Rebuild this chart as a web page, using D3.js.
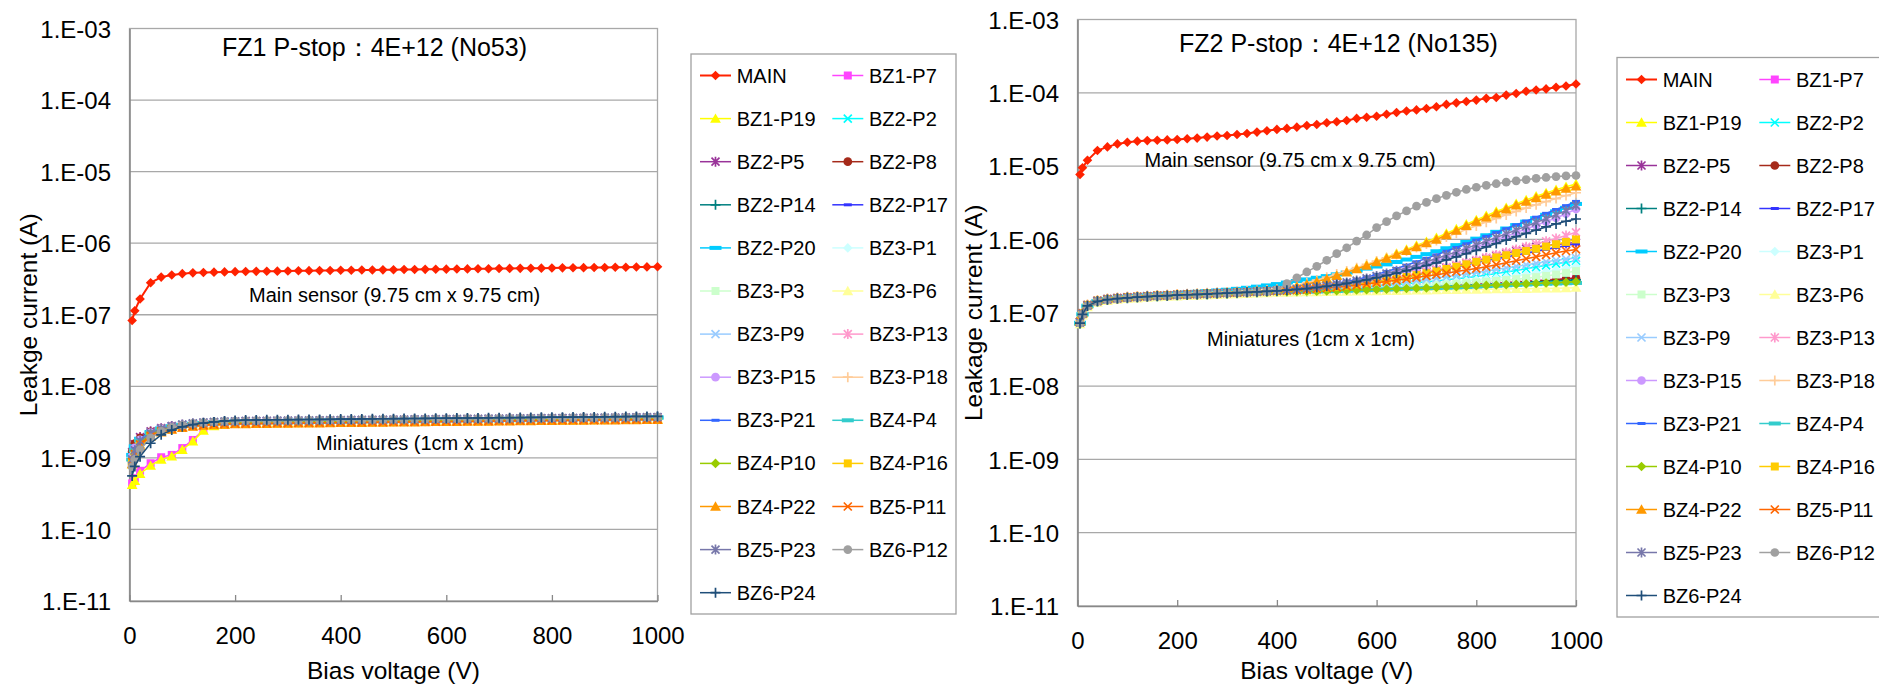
<!DOCTYPE html>
<html>
<head>
<meta charset="utf-8">
<script src="https://cdn.jsdelivr.net/npm/d3@7"></script>
<style>
  body { margin: 0; background: #fff; }
  svg { display: block; }
</style>
</head>
<body>
<svg id="chart" width="1879" height="684"></svg>
<script>
// Bias voltages (V), shared by every series
const voltages = [5, 10, 20, 40, 60, 80, 100, 120, 140, 160, 180, 200, 220, 240, 260, 280, 300, 320, 340, 360, 380, 400, 420, 440, 460, 480, 500, 520, 540, 560, 580, 600, 620, 640, 660, 680, 700, 720, 740, 760, 780, 800, 820, 840, 860, 880, 900, 920, 940, 960, 980, 1000]

// Series names, in legend order
const seriesNames = ["MAIN", "BZ1-P7", "BZ1-P19", "BZ2-P2", "BZ2-P5", "BZ2-P8", "BZ2-P14", "BZ2-P17", "BZ2-P20", "BZ3-P1", "BZ3-P3", "BZ3-P6", "BZ3-P9", "BZ3-P13", "BZ3-P15", "BZ3-P18", "BZ3-P21", "BZ4-P4", "BZ4-P10", "BZ4-P16", "BZ4-P22", "BZ5-P11", "BZ5-P23", "BZ6-P12", "BZ6-P24"]

// Axis ticks
const yTickValues = [1e-11, 1e-10, 1e-9, 1e-8, 1e-7, 1e-6, 1e-5, 1e-4, 1e-3]
const yTickLabels = ["1.E-11", "1.E-10", "1.E-09", "1.E-08", "1.E-07", "1.E-06", "1.E-05", "1.E-04", "1.E-03"]
const xTickValues = [0, 200, 400, 600, 800, 1000]

// FZ1 leakage currents (nA)
const fz1Main = [83, 114, 166, 280, 336, 360, 375, 385, 390, 394, 397, 400, 402, 404, 405, 407, 409, 411, 413, 414, 416, 418, 419, 421, 423, 424, 426, 428, 429, 431, 432, 434, 436, 437, 439, 440, 442, 444, 445, 447, 448, 450, 452, 453, 455, 457, 458, 460, 462, 464, 466, 468]
const fz1BZ1P7 = [0.44, 0.52, 0.66, 0.84, 1.02, 1.1, 1.37, 1.78, 2.46, 2.8, 2.95, 3.02, 3.05, 3.07, 3.09, 3.1, 3.12, 3.13, 3.14, 3.15, 3.17, 3.18, 3.19, 3.2, 3.21, 3.22, 3.23, 3.24, 3.25, 3.26, 3.27, 3.28, 3.29, 3.3, 3.31, 3.32, 3.33, 3.34, 3.35, 3.36, 3.37, 3.38, 3.39, 3.4, 3.41, 3.42, 3.43, 3.44, 3.45, 3.46, 3.47, 3.48]
const fz1BZ1P19 = [0.42, 0.48, 0.6, 0.78, 0.95, 1.05, 1.3, 1.7, 2.4, 2.78, 2.93, 3.0, 3.03, 3.05, 3.07, 3.09, 3.1, 3.12, 3.13, 3.14, 3.16, 3.17, 3.18, 3.19, 3.2, 3.21, 3.22, 3.23, 3.24, 3.25, 3.26, 3.27, 3.28, 3.29, 3.3, 3.31, 3.32, 3.33, 3.34, 3.35, 3.36, 3.37, 3.38, 3.39, 3.4, 3.41, 3.42, 3.43, 3.44, 3.45, 3.46, 3.47]
const fz1BZ2P2 = [1.0, 1.35, 1.75, 2.25, 2.55, 2.75, 2.9, 3.0, 3.07, 3.12, 3.15, 3.17, 3.19, 3.2, 3.21, 3.22, 3.23, 3.24, 3.25, 3.26, 3.27, 3.29, 3.3, 3.31, 3.32, 3.33, 3.34, 3.35, 3.36, 3.37, 3.39, 3.4, 3.41, 3.42, 3.43, 3.44, 3.45, 3.46, 3.47, 3.49, 3.5, 3.51, 3.52, 3.53, 3.54, 3.55, 3.56, 3.57, 3.59, 3.6, 3.61, 3.62]
const fz1BZ2P5 = [1.2, 1.55, 1.95, 2.35, 2.6, 2.78, 2.9, 3.0, 3.08, 3.14, 3.18, 3.21, 3.24, 3.25, 3.26, 3.27, 3.28, 3.29, 3.3, 3.31, 3.32, 3.34, 3.35, 3.36, 3.37, 3.38, 3.39, 3.4, 3.41, 3.42, 3.44, 3.45, 3.46, 3.47, 3.48, 3.49, 3.5, 3.51, 3.52, 3.54, 3.55, 3.56, 3.57, 3.58, 3.59, 3.6, 3.61, 3.62, 3.64, 3.65, 3.66, 3.67]
const fz1BZ2P8 = [1.22, 1.58, 1.9, 2.3, 2.57, 2.75, 2.88, 2.98, 3.06, 3.12, 3.17, 3.2, 3.23, 3.24, 3.25, 3.26, 3.27, 3.28, 3.29, 3.3, 3.31, 3.33, 3.34, 3.35, 3.36, 3.37, 3.38, 3.39, 3.4, 3.41, 3.43, 3.44, 3.45, 3.46, 3.47, 3.48, 3.49, 3.5, 3.51, 3.53, 3.54, 3.55, 3.56, 3.57, 3.58, 3.59, 3.6, 3.61, 3.63, 3.64, 3.65, 3.66]
const fz1BZ2P14 = [0.9, 1.2, 1.65, 2.2, 2.5, 2.7, 2.85, 2.96, 3.04, 3.1, 3.14, 3.16, 3.18, 3.19, 3.2, 3.21, 3.22, 3.23, 3.24, 3.25, 3.26, 3.28, 3.29, 3.3, 3.31, 3.32, 3.33, 3.34, 3.35, 3.36, 3.38, 3.39, 3.4, 3.41, 3.42, 3.43, 3.44, 3.45, 3.46, 3.48, 3.49, 3.5, 3.51, 3.52, 3.53, 3.54, 3.55, 3.56, 3.58, 3.59, 3.6, 3.61]
const fz1BZ2P17 = [1.05, 1.4, 1.8, 2.28, 2.56, 2.74, 2.88, 2.98, 3.06, 3.12, 3.16, 3.19, 3.21, 3.22, 3.23, 3.24, 3.25, 3.26, 3.27, 3.28, 3.29, 3.31, 3.32, 3.33, 3.34, 3.35, 3.36, 3.37, 3.38, 3.39, 3.41, 3.42, 3.43, 3.44, 3.45, 3.46, 3.47, 3.48, 3.49, 3.51, 3.52, 3.53, 3.54, 3.55, 3.56, 3.57, 3.58, 3.59, 3.61, 3.62, 3.63, 3.64]
const fz1BZ2P20 = [1.1, 1.45, 1.85, 2.3, 2.58, 2.76, 2.9, 3.0, 3.08, 3.14, 3.19, 3.22, 3.25, 3.26, 3.27, 3.28, 3.29, 3.3, 3.31, 3.32, 3.33, 3.35, 3.36, 3.37, 3.38, 3.39, 3.4, 3.41, 3.42, 3.43, 3.45, 3.46, 3.47, 3.48, 3.49, 3.5, 3.51, 3.52, 3.53, 3.55, 3.56, 3.57, 3.58, 3.59, 3.6, 3.61, 3.62, 3.63, 3.65, 3.66, 3.67, 3.68]
const fz1BZ3P1 = [0.95, 1.25, 1.7, 2.2, 2.5, 2.7, 2.84, 2.95, 3.03, 3.09, 3.13, 3.15, 3.17, 3.18, 3.19, 3.2, 3.21, 3.22, 3.23, 3.24, 3.25, 3.27, 3.28, 3.29, 3.3, 3.31, 3.32, 3.33, 3.34, 3.35, 3.37, 3.38, 3.39, 3.4, 3.41, 3.42, 3.43, 3.44, 3.45, 3.47, 3.48, 3.49, 3.5, 3.51, 3.52, 3.53, 3.54, 3.55, 3.57, 3.58, 3.59, 3.6]
const fz1BZ3P3 = [0.85, 1.15, 1.6, 2.15, 2.45, 2.66, 2.8, 2.92, 3.0, 3.06, 3.1, 3.12, 3.14, 3.15, 3.16, 3.17, 3.18, 3.19, 3.2, 3.21, 3.22, 3.24, 3.25, 3.26, 3.27, 3.28, 3.29, 3.3, 3.31, 3.32, 3.34, 3.35, 3.36, 3.37, 3.38, 3.39, 3.4, 3.41, 3.42, 3.44, 3.45, 3.46, 3.47, 3.48, 3.49, 3.5, 3.51, 3.52, 3.54, 3.55, 3.56, 3.57]
const fz1BZ3P6 = [0.8, 1.1, 1.55, 2.1, 2.4, 2.62, 2.76, 2.88, 2.96, 3.02, 3.06, 3.08, 3.1, 3.11, 3.12, 3.13, 3.14, 3.15, 3.16, 3.17, 3.18, 3.2, 3.21, 3.22, 3.23, 3.24, 3.25, 3.26, 3.27, 3.28, 3.3, 3.31, 3.32, 3.33, 3.34, 3.35, 3.36, 3.37, 3.38, 3.4, 3.41, 3.42, 3.43, 3.44, 3.45, 3.46, 3.47, 3.48, 3.5, 3.51, 3.52, 3.53]
const fz1BZ3P9 = [0.92, 1.22, 1.68, 2.22, 2.52, 2.72, 2.86, 2.96, 3.04, 3.1, 3.14, 3.17, 3.2, 3.21, 3.22, 3.23, 3.24, 3.25, 3.26, 3.27, 3.28, 3.3, 3.31, 3.32, 3.33, 3.34, 3.35, 3.36, 3.37, 3.38, 3.4, 3.41, 3.42, 3.43, 3.44, 3.45, 3.46, 3.47, 3.48, 3.5, 3.51, 3.52, 3.53, 3.54, 3.55, 3.56, 3.57, 3.58, 3.6, 3.61, 3.62, 3.63]
const fz1BZ3P13 = [0.98, 1.3, 1.72, 2.2, 2.5, 2.7, 2.84, 2.95, 3.03, 3.09, 3.12, 3.14, 3.16, 3.17, 3.18, 3.19, 3.2, 3.21, 3.22, 3.23, 3.24, 3.26, 3.27, 3.28, 3.29, 3.3, 3.31, 3.32, 3.33, 3.34, 3.36, 3.37, 3.38, 3.39, 3.4, 3.41, 3.42, 3.43, 3.44, 3.46, 3.47, 3.48, 3.49, 3.5, 3.51, 3.52, 3.53, 3.54, 3.56, 3.57, 3.58, 3.59]
const fz1BZ3P15 = [1.05, 1.38, 1.78, 2.26, 2.55, 2.74, 2.88, 2.98, 3.06, 3.12, 3.16, 3.19, 3.22, 3.23, 3.24, 3.25, 3.26, 3.27, 3.28, 3.29, 3.3, 3.32, 3.33, 3.34, 3.35, 3.36, 3.37, 3.38, 3.39, 3.4, 3.42, 3.43, 3.44, 3.45, 3.46, 3.47, 3.48, 3.49, 3.5, 3.52, 3.53, 3.54, 3.55, 3.56, 3.57, 3.58, 3.59, 3.6, 3.62, 3.63, 3.64, 3.65]
const fz1BZ3P18 = [0.88, 1.18, 1.62, 2.12, 2.42, 2.62, 2.76, 2.87, 2.95, 3.0, 3.04, 3.06, 3.08, 3.09, 3.1, 3.11, 3.12, 3.13, 3.14, 3.15, 3.16, 3.18, 3.19, 3.2, 3.21, 3.22, 3.23, 3.24, 3.25, 3.26, 3.28, 3.29, 3.3, 3.31, 3.32, 3.33, 3.34, 3.35, 3.36, 3.38, 3.39, 3.4, 3.41, 3.42, 3.43, 3.44, 3.45, 3.46, 3.48, 3.49, 3.5, 3.51]
const fz1BZ3P21 = [1.0, 1.35, 1.8, 2.3, 2.6, 2.78, 2.92, 3.02, 3.1, 3.16, 3.2, 3.23, 3.26, 3.27, 3.28, 3.29, 3.3, 3.31, 3.32, 3.33, 3.34, 3.36, 3.37, 3.38, 3.39, 3.4, 3.41, 3.42, 3.43, 3.44, 3.46, 3.47, 3.48, 3.49, 3.5, 3.51, 3.52, 3.53, 3.54, 3.56, 3.57, 3.58, 3.59, 3.6, 3.61, 3.62, 3.63, 3.64, 3.66, 3.67, 3.68, 3.69]
const fz1BZ4P4 = [0.95, 1.28, 1.75, 2.25, 2.55, 2.74, 2.88, 2.98, 3.06, 3.12, 3.16, 3.19, 3.21, 3.22, 3.23, 3.24, 3.25, 3.26, 3.27, 3.28, 3.29, 3.31, 3.32, 3.33, 3.34, 3.35, 3.36, 3.37, 3.38, 3.39, 3.41, 3.42, 3.43, 3.44, 3.45, 3.46, 3.47, 3.48, 3.49, 3.51, 3.52, 3.53, 3.54, 3.55, 3.56, 3.57, 3.58, 3.59, 3.61, 3.62, 3.63, 3.64]
const fz1BZ4P10 = [0.82, 1.12, 1.6, 2.15, 2.46, 2.66, 2.8, 2.92, 3.0, 3.06, 3.1, 3.13, 3.15, 3.16, 3.17, 3.18, 3.19, 3.2, 3.21, 3.22, 3.23, 3.25, 3.26, 3.27, 3.28, 3.29, 3.3, 3.31, 3.32, 3.33, 3.35, 3.36, 3.37, 3.38, 3.39, 3.4, 3.41, 3.42, 3.43, 3.45, 3.46, 3.47, 3.48, 3.49, 3.5, 3.51, 3.52, 3.53, 3.55, 3.56, 3.57, 3.58]
const fz1BZ4P16 = [0.85, 1.1, 1.5, 2.0, 2.3, 2.5, 2.65, 2.76, 2.84, 2.9, 2.95, 2.98, 3.0, 3.01, 3.02, 3.03, 3.04, 3.05, 3.06, 3.07, 3.08, 3.1, 3.11, 3.12, 3.13, 3.14, 3.15, 3.16, 3.17, 3.18, 3.2, 3.21, 3.22, 3.23, 3.24, 3.25, 3.26, 3.27, 3.28, 3.3, 3.31, 3.32, 3.33, 3.34, 3.35, 3.36, 3.37, 3.38, 3.4, 3.41, 3.42, 3.43]
const fz1BZ4P22 = [0.82, 1.08, 1.48, 1.98, 2.28, 2.48, 2.63, 2.74, 2.82, 2.88, 2.93, 2.96, 2.98, 2.99, 3.0, 3.01, 3.02, 3.03, 3.04, 3.05, 3.06, 3.08, 3.09, 3.1, 3.11, 3.12, 3.13, 3.14, 3.15, 3.16, 3.18, 3.19, 3.2, 3.21, 3.22, 3.23, 3.24, 3.25, 3.26, 3.28, 3.29, 3.3, 3.31, 3.32, 3.33, 3.34, 3.35, 3.36, 3.38, 3.39, 3.4, 3.41]
const fz1BZ5P11 = [0.88, 1.14, 1.54, 2.04, 2.34, 2.54, 2.68, 2.79, 2.87, 2.93, 2.97, 3.0, 3.02, 3.03, 3.04, 3.05, 3.06, 3.07, 3.08, 3.09, 3.1, 3.12, 3.13, 3.14, 3.15, 3.16, 3.17, 3.18, 3.19, 3.2, 3.22, 3.23, 3.24, 3.25, 3.26, 3.27, 3.28, 3.29, 3.3, 3.32, 3.33, 3.34, 3.35, 3.36, 3.37, 3.38, 3.39, 3.4, 3.42, 3.43, 3.44, 3.45]
const fz1BZ5P23 = [0.95, 1.28, 1.72, 2.22, 2.55, 2.76, 2.92, 3.04, 3.12, 3.18, 3.22, 3.25, 3.28, 3.29, 3.3, 3.31, 3.32, 3.33, 3.34, 3.35, 3.36, 3.38, 3.39, 3.4, 3.41, 3.42, 3.43, 3.44, 3.45, 3.46, 3.48, 3.49, 3.5, 3.51, 3.52, 3.53, 3.54, 3.55, 3.56, 3.58, 3.59, 3.6, 3.61, 3.62, 3.63, 3.64, 3.65, 3.66, 3.68, 3.69, 3.7, 3.71]
const fz1BZ6P12 = [0.75, 0.95, 1.3, 1.9, 2.35, 2.65, 2.85, 3.0, 3.1, 3.18, 3.24, 3.27, 3.3, 3.31, 3.32, 3.33, 3.34, 3.35, 3.36, 3.37, 3.38, 3.4, 3.41, 3.42, 3.43, 3.44, 3.45, 3.46, 3.47, 3.48, 3.5, 3.51, 3.52, 3.53, 3.54, 3.55, 3.56, 3.57, 3.58, 3.6, 3.61, 3.62, 3.63, 3.64, 3.65, 3.66, 3.67, 3.68, 3.7, 3.71, 3.72, 3.73]
const fz1BZ6P24 = [0.56, 0.76, 1.04, 1.6, 2.1, 2.45, 2.72, 2.92, 3.06, 3.18, 3.28, 3.34, 3.38, 3.39, 3.4, 3.41, 3.42, 3.43, 3.44, 3.45, 3.46, 3.48, 3.49, 3.5, 3.51, 3.52, 3.53, 3.54, 3.55, 3.56, 3.58, 3.59, 3.6, 3.61, 3.62, 3.63, 3.64, 3.65, 3.66, 3.68, 3.69, 3.7, 3.71, 3.72, 3.73, 3.74, 3.75, 3.76, 3.78, 3.79, 3.8, 3.81]

// FZ2 leakage currents (nA)
const fz2Main = [7700, 9500, 12000, 16300, 18300, 20100, 21200, 21900, 22300, 22500, 22800, 23100, 23600, 24100, 24900, 25700, 26200, 27000, 27900, 29100, 30400, 31700, 32700, 34000, 35900, 37000, 39000, 40300, 42000, 44800, 46500, 48000, 51000, 54000, 56500, 58500, 61000, 64500, 69500, 73000, 76000, 79500, 84000, 86500, 93000, 98000, 105000, 109000, 113000, 119000, 124000, 132000]
const fz2BZ1P7 = [73, 96, 125, 143, 151, 156, 160, 163, 166, 169, 171, 174, 176, 178, 180, 182, 184, 187, 189, 191, 194, 196, 197, 198, 199, 200, 202, 204, 206, 208, 210, 212, 214, 217, 220, 223, 226, 229, 232, 236, 240, 244, 248, 253, 258, 263, 268, 274, 280, 286, 293, 300]
const fz2BZ1P19 = [75, 98, 127, 146, 154, 159, 163, 166, 169, 172, 174, 177, 179, 181, 183, 186, 188, 191, 193, 196, 199, 203, 214, 228, 246, 268, 295, 326, 362, 404, 452, 505, 570, 645, 730, 825, 935, 1060, 1210, 1390, 1610, 1850, 2110, 2400, 2720, 3080, 3460, 3880, 4320, 4780, 5230, 5700]
const fz2BZ2P2 = [74, 97, 126, 144, 152, 157, 161, 164, 167, 170, 172, 175, 177, 179, 181, 183, 185, 188, 190, 193, 195, 197, 199, 201, 203, 206, 209, 212, 216, 220, 225, 230, 236, 242, 249, 256, 264, 272, 281, 291, 301, 312, 326, 342, 359, 378, 398, 420, 443, 467, 490, 510]
const fz2BZ2P5 = [75, 98, 127, 145, 153, 158, 162, 165, 168, 171, 173, 176, 178, 180, 182, 185, 187, 190, 192, 195, 198, 200, 202, 206, 211, 217, 224, 232, 241, 251, 262, 274, 288, 303, 320, 339, 360, 384, 411, 441, 474, 511, 552, 597, 646, 700, 750, 790, 825, 855, 880, 905]
const fz2BZ2P8 = [72, 95, 124, 142, 150, 155, 159, 162, 165, 168, 170, 173, 175, 177, 179, 181, 183, 186, 188, 190, 193, 195, 196, 197, 198, 199, 201, 203, 205, 207, 209, 211, 213, 216, 219, 222, 225, 228, 231, 235, 239, 243, 247, 251, 256, 261, 266, 271, 277, 283, 289, 295]
const fz2BZ2P14 = [71, 94, 123, 141, 149, 154, 158, 161, 164, 167, 169, 172, 174, 176, 178, 180, 182, 185, 187, 189, 192, 194, 195, 196, 197, 198, 200, 202, 204, 206, 208, 210, 212, 214, 216, 219, 222, 225, 228, 231, 234, 238, 242, 246, 250, 254, 258, 262, 266, 270, 275, 280]
const fz2BZ2P17 = [74, 97, 126, 144, 152, 157, 161, 164, 167, 170, 172, 175, 177, 179, 181, 184, 186, 188, 191, 193, 196, 199, 201, 204, 208, 213, 219, 226, 234, 243, 253, 264, 277, 291, 307, 325, 345, 367, 392, 420, 451, 485, 515, 545, 578, 613, 650, 690, 733, 778, 824, 870]
const fz2BZ2P20 = [73, 96, 125, 145, 154, 160, 165, 169, 173, 177, 181, 185, 189, 193, 197, 201, 206, 212, 219, 227, 236, 246, 258, 271, 285, 300, 316, 334, 354, 376, 400, 427, 457, 492, 532, 578, 630, 690, 758, 836, 925, 1025, 1140, 1270, 1410, 1570, 1750, 1950, 2170, 2420, 2700, 3050]
const fz2BZ3P1 = [72, 95, 124, 143, 151, 156, 160, 163, 166, 169, 171, 174, 176, 178, 180, 182, 184, 187, 189, 192, 194, 197, 199, 200, 202, 204, 206, 208, 211, 214, 217, 221, 225, 229, 234, 239, 245, 251, 257, 264, 271, 279, 287, 297, 308, 320, 333, 347, 362, 379, 402, 430]
const fz2BZ3P3 = [70, 93, 122, 141, 149, 154, 158, 161, 164, 167, 169, 172, 174, 176, 178, 180, 182, 185, 187, 190, 193, 196, 198, 199, 200, 202, 204, 206, 208, 210, 213, 216, 219, 222, 226, 230, 234, 238, 243, 248, 253, 259, 265, 272, 279, 287, 296, 306, 318, 332, 350, 370]
const fz2BZ3P6 = [70, 92, 120, 138, 146, 151, 155, 158, 161, 164, 166, 168, 170, 172, 174, 176, 178, 180, 182, 184, 186, 188, 189, 190, 191, 192, 193, 194, 195, 196, 197, 198, 199, 200, 201, 202, 203, 204, 205, 206, 207, 208, 209, 210, 211, 212, 213, 214, 215, 216, 218, 220]
const fz2BZ3P9 = [74, 97, 126, 144, 152, 157, 161, 164, 167, 170, 172, 175, 177, 179, 181, 184, 186, 188, 191, 193, 196, 198, 200, 203, 206, 209, 213, 217, 222, 227, 233, 240, 247, 255, 264, 274, 285, 297, 310, 324, 339, 355, 372, 390, 409, 429, 450, 472, 495, 518, 540, 560]
const fz2BZ3P13 = [75, 98, 127, 145, 153, 158, 162, 165, 168, 171, 173, 176, 178, 180, 182, 185, 187, 190, 192, 195, 198, 201, 203, 207, 212, 218, 225, 233, 242, 252, 263, 276, 290, 306, 324, 344, 366, 391, 419, 450, 485, 524, 567, 615, 668, 727, 792, 864, 943, 1030, 1130, 1250]
const fz2BZ3P15 = [73, 96, 125, 143, 151, 156, 160, 163, 166, 169, 171, 174, 176, 178, 180, 183, 185, 188, 190, 193, 196, 199, 204, 209, 215, 222, 230, 240, 252, 266, 283, 303, 327, 355, 387, 424, 467, 516, 572, 636, 709, 792, 885, 990, 1108, 1240, 1390, 1560, 1750, 1960, 2240, 2600]
const fz2BZ3P18 = [77, 100, 130, 149, 157, 162, 166, 169, 172, 175, 177, 180, 182, 184, 187, 190, 192, 195, 198, 201, 205, 210, 222, 237, 256, 279, 306, 337, 372, 412, 457, 507, 562, 625, 695, 775, 865, 965, 1080, 1210, 1360, 1530, 1720, 1930, 2160, 2410, 2680, 2970, 3280, 3610, 3960, 4330]
const fz2BZ3P21 = [74, 97, 126, 144, 152, 157, 161, 164, 167, 170, 172, 175, 177, 180, 182, 185, 188, 191, 194, 197, 201, 205, 210, 216, 223, 231, 240, 252, 266, 284, 306, 334, 366, 402, 445, 495, 552, 616, 690, 775, 872, 980, 1100, 1240, 1400, 1580, 1780, 2010, 2270, 2560, 2890, 3300]
const fz2BZ4P4 = [71, 94, 122, 140, 148, 153, 157, 160, 163, 166, 168, 171, 173, 175, 177, 179, 181, 184, 186, 188, 191, 192, 193, 194, 195, 196, 197, 198, 200, 202, 204, 206, 208, 210, 212, 214, 216, 218, 220, 222, 225, 228, 231, 234, 237, 240, 243, 246, 249, 251, 253, 255]
const fz2BZ4P10 = [71, 94, 123, 141, 149, 154, 158, 161, 164, 167, 169, 172, 174, 176, 178, 180, 182, 185, 187, 189, 191, 193, 194, 195, 196, 197, 198, 200, 202, 204, 206, 208, 210, 212, 214, 216, 218, 221, 224, 227, 230, 233, 236, 239, 242, 245, 248, 251, 254, 257, 261, 265]
const fz2BZ4P16 = [76, 99, 128, 146, 154, 159, 163, 166, 169, 172, 174, 177, 179, 181, 183, 185, 187, 190, 192, 195, 198, 200, 202, 205, 209, 214, 220, 227, 235, 244, 254, 265, 278, 292, 308, 326, 346, 369, 395, 424, 457, 494, 530, 568, 608, 651, 697, 746, 800, 860, 925, 1000]
const fz2BZ4P22 = [76, 99, 129, 147, 155, 160, 164, 167, 170, 173, 175, 178, 180, 182, 184, 187, 189, 192, 194, 197, 200, 204, 215, 228, 245, 265, 290, 320, 355, 395, 440, 490, 550, 620, 700, 790, 890, 1000, 1150, 1320, 1530, 1760, 2000, 2280, 2580, 2920, 3280, 3680, 4100, 4520, 4930, 5300]
const fz2BZ5P11 = [75, 98, 127, 145, 153, 158, 162, 165, 168, 171, 173, 176, 178, 180, 182, 184, 186, 189, 191, 194, 196, 198, 200, 203, 207, 211, 216, 222, 229, 237, 246, 256, 266, 277, 289, 302, 316, 331, 347, 364, 382, 401, 425, 452, 481, 512, 545, 580, 617, 656, 695, 730]
const fz2BZ5P23 = [74, 97, 126, 144, 152, 157, 161, 164, 167, 170, 172, 175, 177, 179, 181, 184, 186, 189, 191, 194, 197, 200, 205, 211, 218, 226, 235, 246, 259, 275, 294, 317, 343, 373, 408, 448, 495, 548, 608, 676, 755, 845, 945, 1060, 1195, 1345, 1515, 1705, 1920, 2170, 2470, 2900]
const fz2BZ6P12 = [72, 95, 124, 143, 151, 156, 160, 163, 166, 169, 171, 174, 176, 178, 180, 183, 185, 188, 190, 193, 196, 205, 250, 300, 360, 430, 520, 640, 770, 950, 1150, 1450, 1750, 2100, 2450, 2850, 3200, 3600, 4000, 4400, 4800, 5150, 5450, 5750, 6050, 6300, 6550, 6800, 7000, 7200, 7350, 7450]
const fz2BZ6P24 = [72, 95, 124, 143, 151, 156, 160, 163, 166, 169, 171, 174, 176, 178, 180, 183, 185, 188, 190, 193, 196, 199, 203, 208, 214, 221, 229, 239, 251, 265, 281, 300, 322, 347, 375, 406, 441, 480, 525, 578, 640, 710, 790, 880, 980, 1090, 1210, 1340, 1480, 1630, 1770, 1900]

// Series lists, in the same order as seriesNames
const fz1Currents = [fz1Main, fz1BZ1P7, fz1BZ1P19, fz1BZ2P2, fz1BZ2P5, fz1BZ2P8, fz1BZ2P14, fz1BZ2P17, fz1BZ2P20, fz1BZ3P1, fz1BZ3P3, fz1BZ3P6, fz1BZ3P9, fz1BZ3P13, fz1BZ3P15, fz1BZ3P18, fz1BZ3P21, fz1BZ4P4, fz1BZ4P10, fz1BZ4P16, fz1BZ4P22, fz1BZ5P11, fz1BZ5P23, fz1BZ6P12, fz1BZ6P24]
const fz2Currents = [fz2Main, fz2BZ1P7, fz2BZ1P19, fz2BZ2P2, fz2BZ2P5, fz2BZ2P8, fz2BZ2P14, fz2BZ2P17, fz2BZ2P20, fz2BZ3P1, fz2BZ3P3, fz2BZ3P6, fz2BZ3P9, fz2BZ3P13, fz2BZ3P15, fz2BZ3P18, fz2BZ3P21, fz2BZ4P4, fz2BZ4P10, fz2BZ4P16, fz2BZ4P22, fz2BZ5P11, fz2BZ5P23, fz2BZ6P12, fz2BZ6P24]

// Series styles (Excel palette and marker cycle)
const seriesColors = ["#ff2200", "#ff44ff", "#ffff00", "#00ffff", "#993399", "#a52a1a", "#008080", "#3333ff", "#00ccff", "#ccffff", "#ccffcc", "#ffff99", "#99ccff", "#ff99cc", "#cc99ff", "#ffcc99", "#3366ff", "#33cccc", "#99cc00", "#ffcc00", "#ff9900", "#ff6600", "#7777aa", "#a0a0a0", "#1f4e79"]
const seriesMarkers = ["diamond", "square", "triangle", "x", "star", "circle", "plus", "dash", "longdash", "diamond", "square", "triangle", "x", "star", "circle", "plus", "dash", "longdash", "diamond", "square", "triangle", "x", "star", "circle", "plus"]

const FONT = "'Liberation Sans', Arial, sans-serif"

// Panel layouts
const panels = [
  {
    title: "FZ1 P-stop：4E+12 (No53)", yTitle: "Leakge current (A)", currents: fz1Currents,
    plot: { left: 129.5, right: 657.5, top: 28.5, bottom: 601 },
    yTitleX: 28, titlePos: [222, 46.7], mainPos: [249, 295], miniPos: [316, 442.7],
    legend: { x: 691, y: 54, width: 265, height: 560, rowTop: 21.5, rowStep: 43.1, colStep: 132.3 },
  },
  {
    title: "FZ2 P-stop：4E+12 (No135)", yTitle: "Leakage current (A)", currents: fz2Currents,
    plot: { left: 1077.5, right: 1576, top: 19.5, bottom: 606 },
    yTitleX: 973.5, titlePos: [1179, 42.7], mainPos: [1144.5, 160], miniPos: [1207, 339.3],
    legend: { x: 1617, y: 57.5, width: 290, height: 559.5, rowTop: 22, rowStep: 43, colStep: 133.3 },
  },
]

/** Returns marker path and whether it is filled. */
function markerShape(type) {
  switch (type) {
    case "diamond": return { d: "M0,-4.8L4.8,0L0,4.8L-4.8,0Z", fill: true }
    case "square": return { d: "M-4,-4H4V4H-4Z", fill: true }
    case "triangle": return { d: "M0,-5.2L5.4,4.2L-5.4,4.2Z", fill: true }
    case "circle": return { d: d3.symbol(d3.symbolCircle, 60)(), fill: true }
    case "dash": return { d: "M-4,-1.5H4V1.5H-4Z", fill: true }
    case "longdash": return { d: "M-6,-2H6V2H-6Z", fill: true }
    case "x": return { d: "M-4,-4L4,4M4,-4L-4,4", fill: false }
    case "star": return { d: "M-4,-4L4,4M4,-4L-4,4M0,-5V5", fill: false }
    case "plus": return { d: "M-5,0H5M0,-5V5", fill: false }
  }
}

/** Appends one marker. */
function addMarker(g, type, color, cx, cy) {
  const shape = markerShape(type)
  g.append("path")
    .attr("transform", `translate(${cx},${cy})`)
    .attr("d", shape.d)
    .attr("fill", shape.fill ? color : "none")
    .attr("stroke", shape.fill ? "none" : color)
    .attr("stroke-width", shape.fill ? 0 : 1.7)
}

/** Draws a text label. */
function label(svg, text, x, y, size, anchor = "start") {
  return svg.append("text")
    .attr("x", x)
    .attr("y", y)
    .attr("dominant-baseline", "central")
    .attr("text-anchor", anchor)
    .attr("font-family", FONT)
    .attr("font-size", size)
    .attr("fill", "#000")
    .text(text)
}

/** Draws one chart panel. */
function drawPanel(svg, panel) {
  const { plot } = panel
  const x = d3.scaleLinear().domain([0, 1000]).range([plot.left, plot.right])
  const y = d3.scaleLog().domain([1e-11, 1e-3]).range([plot.bottom, plot.top])

  // Gridlines
  svg.append("g")
    .selectAll("line")
    .data(yTickValues.slice(1, -1))
    .join("line")
    .attr("x1", plot.left)
    .attr("x2", plot.right)
    .attr("y1", d => y(d))
    .attr("y2", d => y(d))
    .attr("stroke", "#a8a8a8")
    .attr("stroke-width", 1.3)

  // Frame
  svg.append("rect")
    .attr("x", plot.left)
    .attr("y", plot.top)
    .attr("width", plot.right - plot.left)
    .attr("height", plot.bottom - plot.top)
    .attr("fill", "none")
    .attr("stroke", "#a8a8a8")
    .attr("stroke-width", 1.3)

  // Configure X axis
  svg.append("g")
    .attr("transform", `translate(0,${plot.bottom})`)
    .call(d3.axisBottom(x).tickValues(xTickValues).tickSize(-6).tickSizeOuter(0).tickFormat(d3.format("d")))
    .call(a => a.select(".domain").attr("stroke", "#888").attr("stroke-width", 1.6))
    .call(a => a.selectAll(".tick line").attr("stroke", "#888").attr("stroke-width", 1.3))
    .call(a => a.selectAll(".tick text")
      .attr("y", 34)
      .attr("dy", "0.36em")
      .attr("font-family", FONT)
      .attr("font-size", 24)
      .attr("fill", "#000"))

  // Configure Y axis
  svg.append("g")
    .attr("transform", `translate(${plot.left},0)`)
    .call(d3.axisLeft(y).tickValues(yTickValues).tickFormat((d, i) => yTickLabels[i]).tickSize(0).tickPadding(18.5))
    .call(a => a.select(".domain").attr("stroke", "#888").attr("stroke-width", 1.6))
    .call(a => a.selectAll(".tick text")
      .attr("dy", "0.36em")
      .attr("font-family", FONT)
      .attr("font-size", 24)
      .attr("fill", "#000"))

  // Axis titles
  label(svg, "Bias voltage (V)", (plot.left + plot.right) / 2, 670, 24.5, "middle")
  label(svg, panel.yTitle, 0, 0, 24.5, "middle")
    .attr("transform", `translate(${panel.yTitleX},${(plot.top + plot.bottom) / 2}) rotate(-90)`)

  // Render series
  const line = d3.line()
    .defined(d => d[0] !== undefined)
    .x(d => x(d[0]))
    .y(d => y(d[1] * 1e-9))
  panel.currents.forEach((values, s) => {
    const color = seriesColors[s]
    const points = values.map((v, i) => [voltages[i], v])
    svg.append("path")
      .datum(points)
      .attr("d", line)
      .attr("fill", "none")
      .attr("stroke", color)
      .attr("stroke-width", s === 0 ? 2 : 1.5)
    const g = svg.append("g")
    points.filter(d => d[0] !== undefined)
      .forEach(d => addMarker(g, seriesMarkers[s], color, x(d[0]), y(d[1] * 1e-9)))
  })

  // Titles and annotations
  label(svg, panel.title, panel.titlePos[0], panel.titlePos[1], 25)
  label(svg, "Main sensor (9.75 cm x 9.75 cm)", panel.mainPos[0], panel.mainPos[1], 20)
  label(svg, "Miniatures (1cm x 1cm)", panel.miniPos[0], panel.miniPos[1], 20)

  // Set legend
  const box = panel.legend
  const lg = svg.append("g").attr("transform", `translate(${box.x},${box.y})`)
  lg.append("rect")
    .attr("width", box.width)
    .attr("height", box.height)
    .attr("fill", "#fff")
    .attr("stroke", "#a0a0a0")
    .attr("stroke-width", 1.3)
  seriesNames.forEach((name, i) => {
    const item = lg.append("g")
      .attr("transform", `translate(${(i % 2) * box.colStep},${box.rowTop + Math.floor(i / 2) * box.rowStep})`)
    item.append("line")
      .attr("x1", 9)
      .attr("x2", 40)
      .attr("stroke", seriesColors[i])
      .attr("stroke-width", i === 0 ? 2 : 1.5)
    addMarker(item, seriesMarkers[i], seriesColors[i], 24.5, 0)
    label(item, name, 45.7, 0, 20)
  })
}

const svg = d3.select("#chart")
svg.append("rect").attr("width", 1879).attr("height", 684).attr("fill", "#fff")
panels.forEach(panel => drawPanel(svg, panel))
</script>
</body>
</html>
